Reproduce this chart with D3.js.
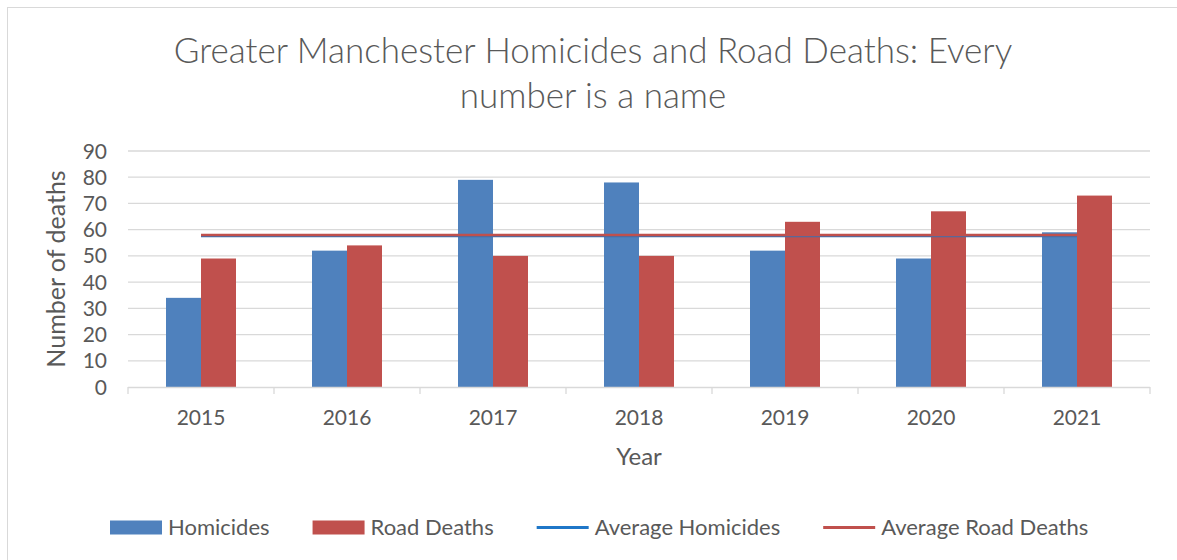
<!DOCTYPE html>
<html>
<head>
<meta charset="utf-8">
<script src="https://cdn.jsdelivr.net/npm/d3@7"></script>
<style>
  body { margin: 0; background: #fff; }
  text { font-family: Lato, "Open Sans", sans-serif; fill: #595959; }
</style>
</head>
<body>
<svg id="chart" width="1177" height="560"></svg>
<script>
// data
var years = ["2015", "2016", "2017", "2018", "2019", "2020", "2021"]
var homicides = [34, 52, 79, 78, 52, 49, 59]
var roadDeaths = [49, 54, 50, 50, 63, 67, 73]
var yTicks = [0, 10, 20, 30, 40, 50, 60, 70, 80, 90]
var seriesNames = ["Homicides", "Road Deaths", "Average Homicides", "Average Road Deaths"]
var seriesColors = ["#4f81bd", "#c0504d", "#1f77c8", "#c0504d"]

var avgHom = d3.mean(homicides)
var avgRoad = d3.mean(roadDeaths)

var svg = d3.select("#chart")
const margin = { top: 151, right: 27, bottom: 173, left: 128 }
var width = 1177 - margin.left - margin.right
var height = 560 - margin.top - margin.bottom

// outer chart border
svg.append("rect").attr("x", 7.5).attr("y", 7.5).attr("width", 1180).attr("height", 560)
  .style("fill", "none").style("stroke", "#d9d9d9")

var g = svg.append("g").attr("transform", "translate(" + margin.left + "," + margin.top + ")")

var x = d3.scaleBand().domain(years).range([0, width])
var y = d3.scaleLinear().domain([0, 90]).range([height, 0])
var bw = 35

// gridlines
g.selectAll(".grid").data(yTicks.slice(1)).join("line").attr("class", "grid")
  .attr("x1", 0).attr("x2", width).attr("y1", d => y(d)).attr("y2", d => y(d))
  .style("stroke", "#d9d9d9").style("stroke-width", 1.3)

// y tick labels
g.selectAll(".ylab").data(yTicks).join("text").attr("class", "ylab")
  .attr("x", -21).attr("y", d => y(d)).attr("dy", "0.36em").attr("text-anchor", "end")
  .style("font-size", "21px").text(d => d)

// bars
var groups = g.selectAll(".yr").data(years).join("g").attr("class", "yr")
  .attr("transform", d => "translate(" + (x(d) + x.bandwidth() / 2) + ",0)")
groups.append("rect").attr("x", -bw).attr("width", bw)
  .attr("y", (d, i) => y(homicides[i])).attr("height", (d, i) => height - y(homicides[i]))
  .style("fill", seriesColors[0])
groups.append("rect").attr("x", 0).attr("width", bw)
  .attr("y", (d, i) => y(roadDeaths[i])).attr("height", (d, i) => height - y(roadDeaths[i]))
  .style("fill", seriesColors[1])

// x axis line + ticks
g.append("line").attr("x1", 0).attr("x2", width).attr("y1", height + 0.5).attr("y2", height + 0.5)
  .style("stroke", "#d9d9d9").style("stroke-width", 1.3)
var bounds = years.map(d => x(d)).concat([width])
g.selectAll(".xtick").data(bounds).join("line").attr("class", "xtick")
  .attr("x1", d => d).attr("x2", d => d).attr("y1", height).attr("y2", height + 7)
  .style("stroke", "#d9d9d9").style("stroke-width", 1.3)
g.selectAll(".xlab").data(years).join("text").attr("class", "xlab")
  .attr("x", d => x(d) + x.bandwidth() / 2).attr("y", height + 38).attr("text-anchor", "middle")
  .style("font-size", "21px").text(d => d)

// average lines
var line = d3.line().x(d => x(d[0]) + x.bandwidth() / 2).y(d => y(d[1]))
g.append("path").datum(years.map(d => [d, avgHom])).attr("d", line)
  .style("fill", "none").style("stroke", "#3a6fb0").style("stroke-width", 2.5)
g.append("path").datum(years.map(d => [d, avgRoad])).attr("d", line)
  .style("fill", "none").style("stroke", seriesColors[3]).style("stroke-width", 2.5)

// axis titles
svg.append("text").attr("transform", "translate(65," + (margin.top + height / 2) + ") rotate(-90)")
  .attr("text-anchor", "middle").style("font-size", "25px").text("Number of deaths")
svg.append("text").attr("x", margin.left + width / 2).attr("y", 465).attr("text-anchor", "middle")
  .style("font-size", "24px").text("Year")

// title
svg.append("text").attr("x", 593).attr("y", 63).attr("text-anchor", "middle")
  .style("font-size", "35px").style("font-weight", 300).text("Greater Manchester Homicides and Road Deaths: Every")
svg.append("text").attr("x", 593).attr("y", 108).attr("text-anchor", "middle")
  .style("font-size", "35px").style("font-weight", 300).text("number is a name")

// legend, laid out left to right from the measured text widths
var lx = 110
seriesNames.forEach(function (name, i) {
  var item = svg.append("g").attr("transform", "translate(" + lx + ",527.5)")
  if (i < 2) item.append("rect").attr("x", 0).attr("y", -7).attr("width", 52).attr("height", 14).style("fill", seriesColors[i])
  else item.append("line").attr("x1", 0).attr("x2", 52).style("stroke", seriesColors[i]).style("stroke-width", 3)
  var t = item.append("text").attr("x", 58).attr("y", 7.5).style("font-size", "22px").text(name)
  lx += 58 + t.node().getComputedTextLength() + 43
})
</script>
</body>
</html>
